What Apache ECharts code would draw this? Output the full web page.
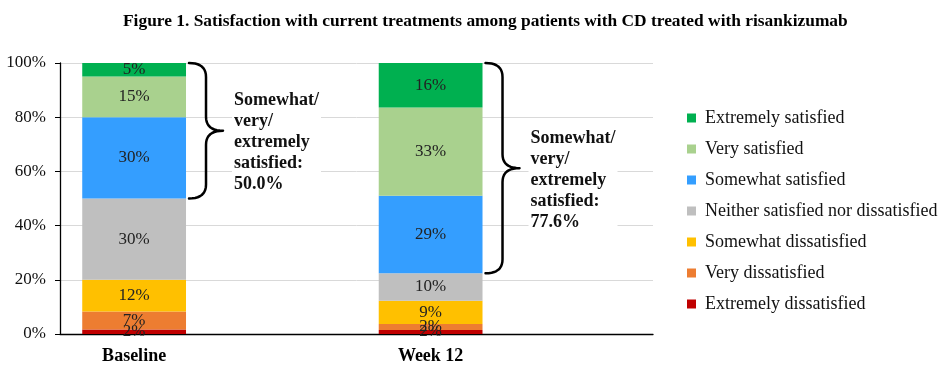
<!DOCTYPE html>
<html>
<head>
<meta charset="utf-8">
<script src="https://cdn.jsdelivr.net/npm/echarts@6/dist/echarts.min.js"></script>
<style>html,body{margin:0;padding:0;background:#fff}#c{width:942px;height:370px}</style>
</head>
<body>
<div id="c"></div>
<script>
var categories = ['Baseline', '', 'Week 12', ''];
var extremelyDissatisfied = [1.7, null, 1.5, null];
var veryDissatisfied = [6.6, null, 2.2, null];
var somewhatDissatisfied = [11.7, null, 8.6, null];
var neither = [30.0, null, 10.1, null];
var somewhatSatisfied = [30.0, null, 28.6, null];
var verySatisfied = [15.0, null, 32.6, null];
var extremelySatisfied = [5.0, null, 16.4, null];
var yTicks = [0, 20, 40, 60, 80, 100];

var seriesDefs = [
  ['Extremely dissatisfied', extremelyDissatisfied, '#C00000'],
  ['Very dissatisfied', veryDissatisfied, '#ED7D31'],
  ['Somewhat dissatisfied', somewhatDissatisfied, '#FFC000'],
  ['Neither satisfied nor dissatisfied', neither, '#BFBFBF'],
  ['Somewhat satisfied', somewhatSatisfied, '#349EFF'],
  ['Very satisfied', verySatisfied, '#A9D18E'],
  ['Extremely satisfied', extremelySatisfied, '#00B050']
];

var serif = '"Liberation Serif", "Times New Roman", serif';

var series = seriesDefs.map(function (d) {
  return {
    name: d[0], type: 'bar', stack: 'all', barWidth: '70%',
    data: d[1], itemStyle: { color: d[2] },
    label: {
      show: true, position: 'inside', fontFamily: serif, fontSize: 17, color: '#222',
      formatter: function (p) { return p.value == null ? '' : Math.round(p.value) + '%'; }
    }
  };
});

// brace annotations derived from the data
var braceData = [];
categories.forEach(function (c, i) {
  if (extremelySatisfied[i] == null) return;
  var sat = extremelySatisfied[i] + verySatisfied[i] + somewhatSatisfied[i];
  var low = extremelyDissatisfied[i] + veryDissatisfied[i] + somewhatDissatisfied[i] + neither[i];
  braceData.push([i, low, low + sat, sat]);
});

function quad(pts, p0, c, p1) {
  for (var t = 0.1; t <= 1.0001; t += 0.1) {
    var a = (1 - t) * (1 - t), b = 2 * (1 - t) * t, d = t * t;
    pts.push([a * p0[0] + b * c[0] + d * p1[0], a * p0[1] + b * c[1] + d * p1[1]]);
  }
}

series.push({
  type: 'custom', name: 'brace', silent: true, z: 10,
  data: braceData,
  renderItem: function (params, api) {
    var idx = api.value(0);
    var top = api.coord([idx, api.value(2)]);
    var bot = api.coord([idx, api.value(1)]);
    var band = api.size([1, 0])[0];
    var x0 = top[0] + band * 0.35 + 3;
    var xm = x0 + 17, xt = x0 + 34, r = 14;
    var yT = top[1], yB = bot[1], mid = (yT + yB) / 2;
    var pts = [[x0, yT]];
    quad(pts, [x0, yT], [xm, yT], [xm, yT + r]);
    pts.push([xm, mid - r]);
    quad(pts, [xm, mid - r], [xm, mid], [xt, mid]);
    quad(pts, [xt, mid], [xm, mid], [xm, mid + r]);
    pts.push([xm, yB - r]);
    quad(pts, [xm, yB - r], [xm, yB], [x0, yB]);
    var txt = 'Somewhat/\nvery/\nextremely\nsatisfied:\n' + api.value(3).toFixed(1) + '%';
    return {
      type: 'group',
      children: [
        { type: 'polyline', shape: { points: pts },
          style: { stroke: '#000', lineWidth: 2.5, fill: null, lineJoin: 'round', lineCap: 'round' } },
        { type: 'text',
          style: { x: xt + 9, y: mid + 12, text: txt, font: 'bold 18px ' + serif,
            fill: '#111', align: 'left', verticalAlign: 'middle', lineHeight: 21,
            backgroundColor: '#fff', padding: [2, 2, 2, 2] } }
      ]
    };
  }
});

var chart = echarts.init(document.getElementById('c'), null, { renderer: 'canvas' });
chart.setOption({
  animation: false,
  title: {
    text: 'Figure 1. Satisfaction with current treatments among patients with CD treated with risankizumab',
    left: 118, top: 8,
    textStyle: { fontFamily: serif, fontSize: 17.4, fontWeight: 'bold', color: '#000' }
  },
  legend: {
    orient: 'vertical', left: 682, top: 104, itemWidth: 9, itemHeight: 9, itemGap: 13,
    icon: 'rect',
    data: seriesDefs.slice().reverse().map(function (d) { return d[0]; }),
    textStyle: { fontFamily: serif, fontSize: 18, color: '#111', padding: [0, 0, 0, 4] }
  },
  grid: { left: 60, right: 289, top: 63, bottom: 36, containLabel: false },
  xAxis: {
    type: 'category', data: categories,
    axisLine: { lineStyle: { color: '#000', width: 1.3 } },
    axisTick: { show: false },
    axisLabel: { fontFamily: serif, fontSize: 18, fontWeight: 'bold', color: '#000', margin: 13 },
    splitLine: { show: false }
  },
  yAxis: {
    type: 'value', min: yTicks[0], max: yTicks[yTicks.length - 1], interval: 20,
    axisLine: { show: true, lineStyle: { color: '#000', width: 1.3 } },
    axisTick: { show: true, length: 5, lineStyle: { color: '#000' } },
    axisLabel: { fontFamily: serif, fontSize: 17, color: '#111', margin: 14, formatter: '{value}%' },
    splitLine: { lineStyle: { color: '#D9D9D9', width: 1 } }
  },
  series: series
});
</script>
</body>
</html>
